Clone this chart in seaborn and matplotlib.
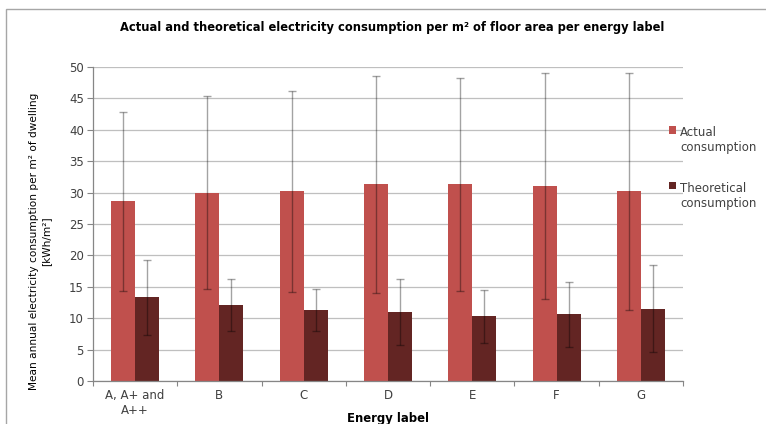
import numpy as np
import pandas as pd
import matplotlib
matplotlib.use("Agg")
import matplotlib.pyplot as plt
import seaborn as sns
from matplotlib.patches import Rectangle
from matplotlib.ticker import FixedLocator, MultipleLocator

# ---- data ----
labels = ["A, A+ and\nA++", "B", "C", "D", "E", "F", "G"]
series = ["Actual\nconsumption", "Theoretical\nconsumption"]
actual = [28.6, 30.0, 30.2, 31.3, 31.3, 31.1, 30.2]
actual_err = [14.3, 15.4, 16.0, 17.3, 17.0, 18.0, 18.9]
theoretical = [13.3, 12.1, 11.3, 11.0, 10.3, 10.6, 11.5]
theoretical_err = [5.9, 4.1, 3.4, 5.2, 4.2, 5.2, 6.9]

colors = ["#C0504D", "#632523"]

df = pd.DataFrame({
    "label": labels * 2,
    "series": [series[0]] * len(labels) + [series[1]] * len(labels),
    "value": actual + theoretical,
})

sns.set_theme(style="white")
plt.rcParams["font.family"] = ["DejaVu Sans"]

W, H = 766, 424
fig = plt.figure(figsize=(W / 100, H / 100), dpi=100)
ax = fig.add_axes([93 / W, 1 - 381 / H, (683 - 93) / W, (381 - 67) / H])

sns.barplot(data=df, x="label", y="value", hue="series", palette=colors,
            width=0.57, errorbar=None, saturation=1, ax=ax, zorder=2,
            linewidth=0)

for cont, errs in zip(ax.containers, [actual_err, theoretical_err]):
    xs = [b.get_x() + b.get_width() / 2 for b in cont]
    hs = [b.get_height() for b in cont]
    ax.errorbar(xs, hs, yerr=errs, fmt="none", ecolor=(0, 0, 0, 0.36),
                elinewidth=1.0, capsize=2.7, capthick=1.0, zorder=3)

ax.set_ylim(0, 50)
ax.set_xlim(-0.5, len(labels) - 0.5)
ax.yaxis.set_major_locator(MultipleLocator(5))
ax.yaxis.grid(True, color="#BFBFBF", linewidth=0.9, zorder=0)
ax.set_axisbelow(True)

for s in ["top", "right"]:
    ax.spines[s].set_visible(False)
for s in ["left", "bottom"]:
    ax.spines[s].set_color("#868686")
    ax.spines[s].set_linewidth(0.9)

ax.tick_params(axis="y", which="major", left=True, length=4.5, width=0.8,
               color="#868686", pad=2, labelsize=8.5, labelcolor="#404040")
ax.tick_params(axis="x", which="major", length=0, pad=6, labelsize=8.5,
               labelcolor="#404040")
ax.xaxis.set_minor_locator(FixedLocator(np.arange(-0.5, len(labels), 1.0)))
ax.tick_params(axis="x", which="minor", bottom=True, length=3.5, width=0.8,
               color="#868686")

ax.set_xlabel("Energy label", fontweight="bold", fontsize=8.4, color="black")
ax.xaxis.set_label_coords(0.5, -0.1)
ax.set_ylabel("")

fig.text(40 / W, 1 - 241 / H,
         "Mean annual electricity consumption per m² of dwelling\n[kWh/m²]",
         rotation=90, ha="center", va="center", multialignment="center",
         fontsize=7.6, color="black", linespacing=1.3)

fig.text(392 / W, 1 - 28 / H,
         "Actual and theoretical electricity consumption per m² of floor area per energy label",
         ha="center", va="center", fontweight="bold", fontsize=8.3,
         color="black")

leg = ax.legend(loc="center left", bbox_to_anchor=(669 / W, 1 - 168 / H),
                bbox_transform=fig.transFigure, frameon=False, fontsize=8.5,
                handlelength=0.6, handleheight=0.6, handletextpad=0.35,
                labelspacing=2.3, borderpad=0, borderaxespad=0, title=None)
for t in leg.get_texts():
    t.set_color("#404040")
for col in leg._legend_handle_box.get_children():
    for row in col.get_children():
        row.align = "top"

border = Rectangle((6 / W, -0.2), 1.2, 0.2 + 1 - 9 / H,
                   transform=fig.transFigure, fill=False,
                   edgecolor="#A6A6A6", linewidth=1.0, clip_on=False)
fig.patches.append(border)

fig.savefig("out.png", dpi=100)
